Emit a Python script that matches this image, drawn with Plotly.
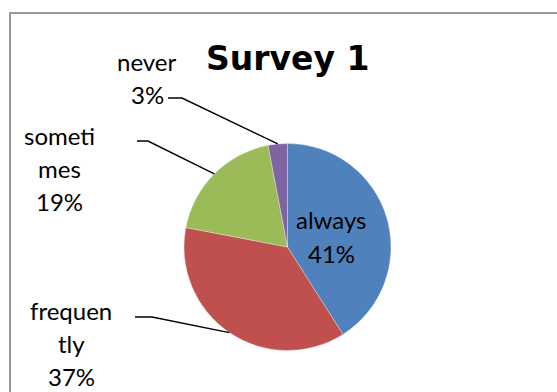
import math
import plotly.graph_objects as go

# Survey responses (percent of respondents)
categories = ["always", "frequently", "sometimes", "never"]
percents = [41, 37, 19, 3]
colors = ["#4F81BD", "#C0504D", "#9BBB59", "#8064A2"]
title_text = "Survey 1"

# Category names as they wrap inside the narrow label boxes
wrapped_names = {
    "always": ["always"],
    "frequently": ["frequen", "tly"],
    "sometimes": ["someti", "mes"],
    "never": ["never"],
}

W, H = 557, 392
CX, CY, R = 287.5, 247.0, 103.5  # pie centre and radius in pixels

LABEL_FONT = "Lato, Calibri, Arial, sans-serif"
TITLE_FONT = "DejaVu Sans, Calibri, Arial, sans-serif"
LABEL_SIZE = 24
LINE_PITCH = 33

# Label block placement (pixel centre of first line) and leader-line start
label_layout = {
    "always": {"x": 331, "y": 220, "leader": None},
    "frequently": {"x": 71, "y": 310, "leader": (135, 317, 152)},
    "sometimes": {"x": 59, "y": 135, "leader": (137, 141, 148)},
    "never": {"x": 147, "y": 61, "leader": (168, 98, 182)},
}


def px(x):
    return x / W


def py(y):
    return 1 - y / H


fig = go.Figure(
    go.Pie(
        labels=categories,
        values=percents,
        sort=False,
        direction="clockwise",
        rotation=0,
        marker=dict(colors=colors, line=dict(color="rgba(255,255,255,0.5)", width=0.6)),
        textinfo="none",
        hoverinfo="label+percent",
        showlegend=False,
        domain=dict(x=[px(CX - R), px(CX + R)], y=[py(CY + R), py(CY - R)]),
    )
)

annotations = []
shapes = []
total = sum(percents)
cum = 0.0
for name, val in zip(categories, percents):
    mid = (cum + val / 2) / total * 2 * math.pi
    cum += val
    lines = wrapped_names[name] + [f"{round(val / total * 100)}%"]
    spec = label_layout[name]
    for i, line in enumerate(lines):
        annotations.append(
            dict(
                x=px(spec["x"]),
                y=py(spec["y"] + i * LINE_PITCH),
                xref="paper",
                yref="paper",
                text=line,
                showarrow=False,
                xanchor="center",
                yanchor="middle",
                font=dict(family=LABEL_FONT, size=LABEL_SIZE, color="#000000"),
            )
        )
    if spec["leader"] is not None:
        sx, sy, ex = spec["leader"]
        # leader ends on the rim at the slice's mid-angle
        tx = CX + R * math.sin(mid)
        ty = CY - R * math.cos(mid)
        shapes.append(
            dict(
                type="path",
                xref="paper",
                yref="paper",
                path=f"M {px(sx)} {py(sy)} L {px(ex)} {py(sy)} L {px(tx)} {py(ty)}",
                line=dict(color="#000000", width=1.4),
            )
        )

# Title
annotations.append(
    dict(
        x=px(287.5),
        y=py(59),
        xref="paper",
        yref="paper",
        text=f"<b>{title_text}</b>",
        showarrow=False,
        xanchor="center",
        yanchor="middle",
        font=dict(family=TITLE_FONT, size=33, color="#000000"),
    )
)

# Chart-area frame
shapes.append(
    dict(
        type="path",
        xref="paper",
        yref="paper",
        path=f"M {px(10)} {py(400)} L {px(10)} {py(13)} L {px(570)} {py(13)}",
        line=dict(color="#999999", width=2),
    )
)

fig.update_layout(
    width=W,
    height=H,
    margin=dict(l=0, r=0, t=0, b=0),
    paper_bgcolor="#ffffff",
    plot_bgcolor="#ffffff",
    annotations=annotations,
    shapes=shapes,
)

fig.write_html("out.html")
